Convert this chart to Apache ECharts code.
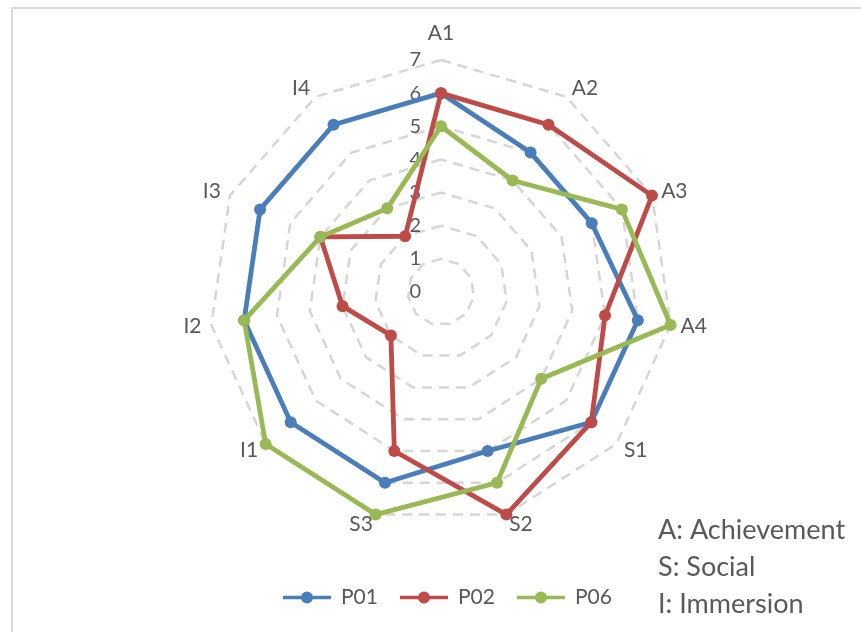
<!DOCTYPE html>
<html>
<head>
<meta charset="utf-8">
<script src="https://cdn.jsdelivr.net/npm/echarts@6/dist/echarts.min.js"></script>
<style>
  html, body { margin: 0; padding: 0; background: #fff; }
  #chart { width: 861px; height: 632px; }
</style>
</head>
<body>
<div id="chart"></div>
<script>
// Motivation profile per player, scored 0-7 on each component
const categories = ['A1', 'A2', 'A3', 'A4', 'S1', 'S2', 'S3', 'I1', 'I2', 'I3', 'I4'];
const seriesNames = ['P01', 'P02', 'P06'];
const p01 = [6, 5, 5, 6, 6, 5, 6, 6, 6, 6, 6];
const p02 = [6, 6, 7, 5, 6, 7, 5, 2, 3, 4, 2];
const p06 = [5, 4, 6, 7, 4, 6, 7, 7, 6, 4, 3];
const scaleMin = 0;
const scaleMax = 7;
const noteLines = ['A: Achievement', 'S: Social', 'I: Immersion'];

const colors = ['#4a7ebb', '#be4b48', '#98b954'];
const fontFamily = 'Lato, "Open Sans", sans-serif';
const textColor = '#595959';
const cx = 441, cy = 292, R = 232;

// ECharts lays radar axes out counter-clockwise; keep the first axis on top
// and reverse the rest so the components run clockwise.
const order = [0].concat(categories.map((_, i) => i).slice(1).reverse());
const reorder = arr => order.map(i => arr[i]);

// Legend glyph: a line with a round marker in its middle
const lineDotIcon = 'path://M0,4.2 H48 V7.8 H0 Z M24,0 A6,6 0 1,1 24,12 A6,6 0 1,1 24,0 Z';

const chart = echarts.init(document.getElementById('chart'), null, { renderer: 'canvas' });

const option = {
  animation: false,
  backgroundColor: '#ffffff',
  color: colors,
  textStyle: { fontFamily: fontFamily },
  title: {
    text: noteLines.join('\n'),
    left: 653,
    top: 507,
    textStyle: {
      fontFamily: fontFamily,
      fontSize: 27,
      fontWeight: 'normal',
      color: textColor,
      lineHeight: 37
    }
  },
  legend: {
    data: seriesNames.map(n => ({ name: n, icon: lineDotIcon })),
    bottom: 19,
    left: 278,
    itemWidth: 48,
    itemHeight: 12,
    itemGap: 22,
    textStyle: { fontFamily: fontFamily, fontSize: 21, color: textColor, padding: [0, 0, 0, 5] }
  },
  radar: {
    center: [cx, cy],
    radius: R,
    startAngle: 90,
    shape: 'polygon',
    splitNumber: scaleMax - scaleMin,
    indicator: reorder(categories).map(n => ({ name: n, min: scaleMin, max: scaleMax })),
    axisName: {
      color: textColor,
      fontFamily: fontFamily,
      fontSize: 21,
      formatter: function (name) {
        return name === categories[0] ? '{top|' + name + '}' : name;
      },
      rich: {
        top: { fontFamily: fontFamily, fontSize: 21, color: textColor, padding: [0, 0, 6, 0] }
      }
    },
    nameGap: 10,
    axisLine: { show: false },
    axisTick: { show: false },
    axisLabel: { show: false },
    splitArea: { show: false },
    splitLine: {
      lineStyle: { color: '#d6d6d6', width: 2.5, type: [10, 7] }
    }
  },
  // Polar frame sharing the radar's centre and radius, used for the 0-7 scale labels
  polar: { center: [cx, cy], radius: R },
  angleAxis: {
    startAngle: 90,
    show: false,
    min: 0,
    max: 360
  },
  radiusAxis: {
    min: scaleMin,
    max: scaleMax,
    interval: 1,
    axisLine: { show: false },
    axisTick: { show: false },
    splitLine: { show: false },
    axisLabel: {
      show: true,
      margin: 20,
      fontFamily: fontFamily,
      fontSize: 20,
      color: textColor,
      verticalAlign: 'middle'
    }
  },
  graphic: [
    {
      type: 'rect',
      silent: true,
      shape: { x: 12, y: 8, width: 900, height: 700 },
      style: { fill: 'none', stroke: '#d9d9d9', lineWidth: 2 }
    }
  ],
  series: [
    {
      type: 'radar',
      symbol: 'circle',
      symbolSize: 12,
      data: [
        { name: seriesNames[0], value: reorder(p01) },
        { name: seriesNames[1], value: reorder(p02) },
        { name: seriesNames[2], value: reorder(p06) }
      ],
      lineStyle: { width: 4.8 },
      emphasis: { disabled: true }
    }
  ]
};

chart.setOption(option);
</script>
</body>
</html>
